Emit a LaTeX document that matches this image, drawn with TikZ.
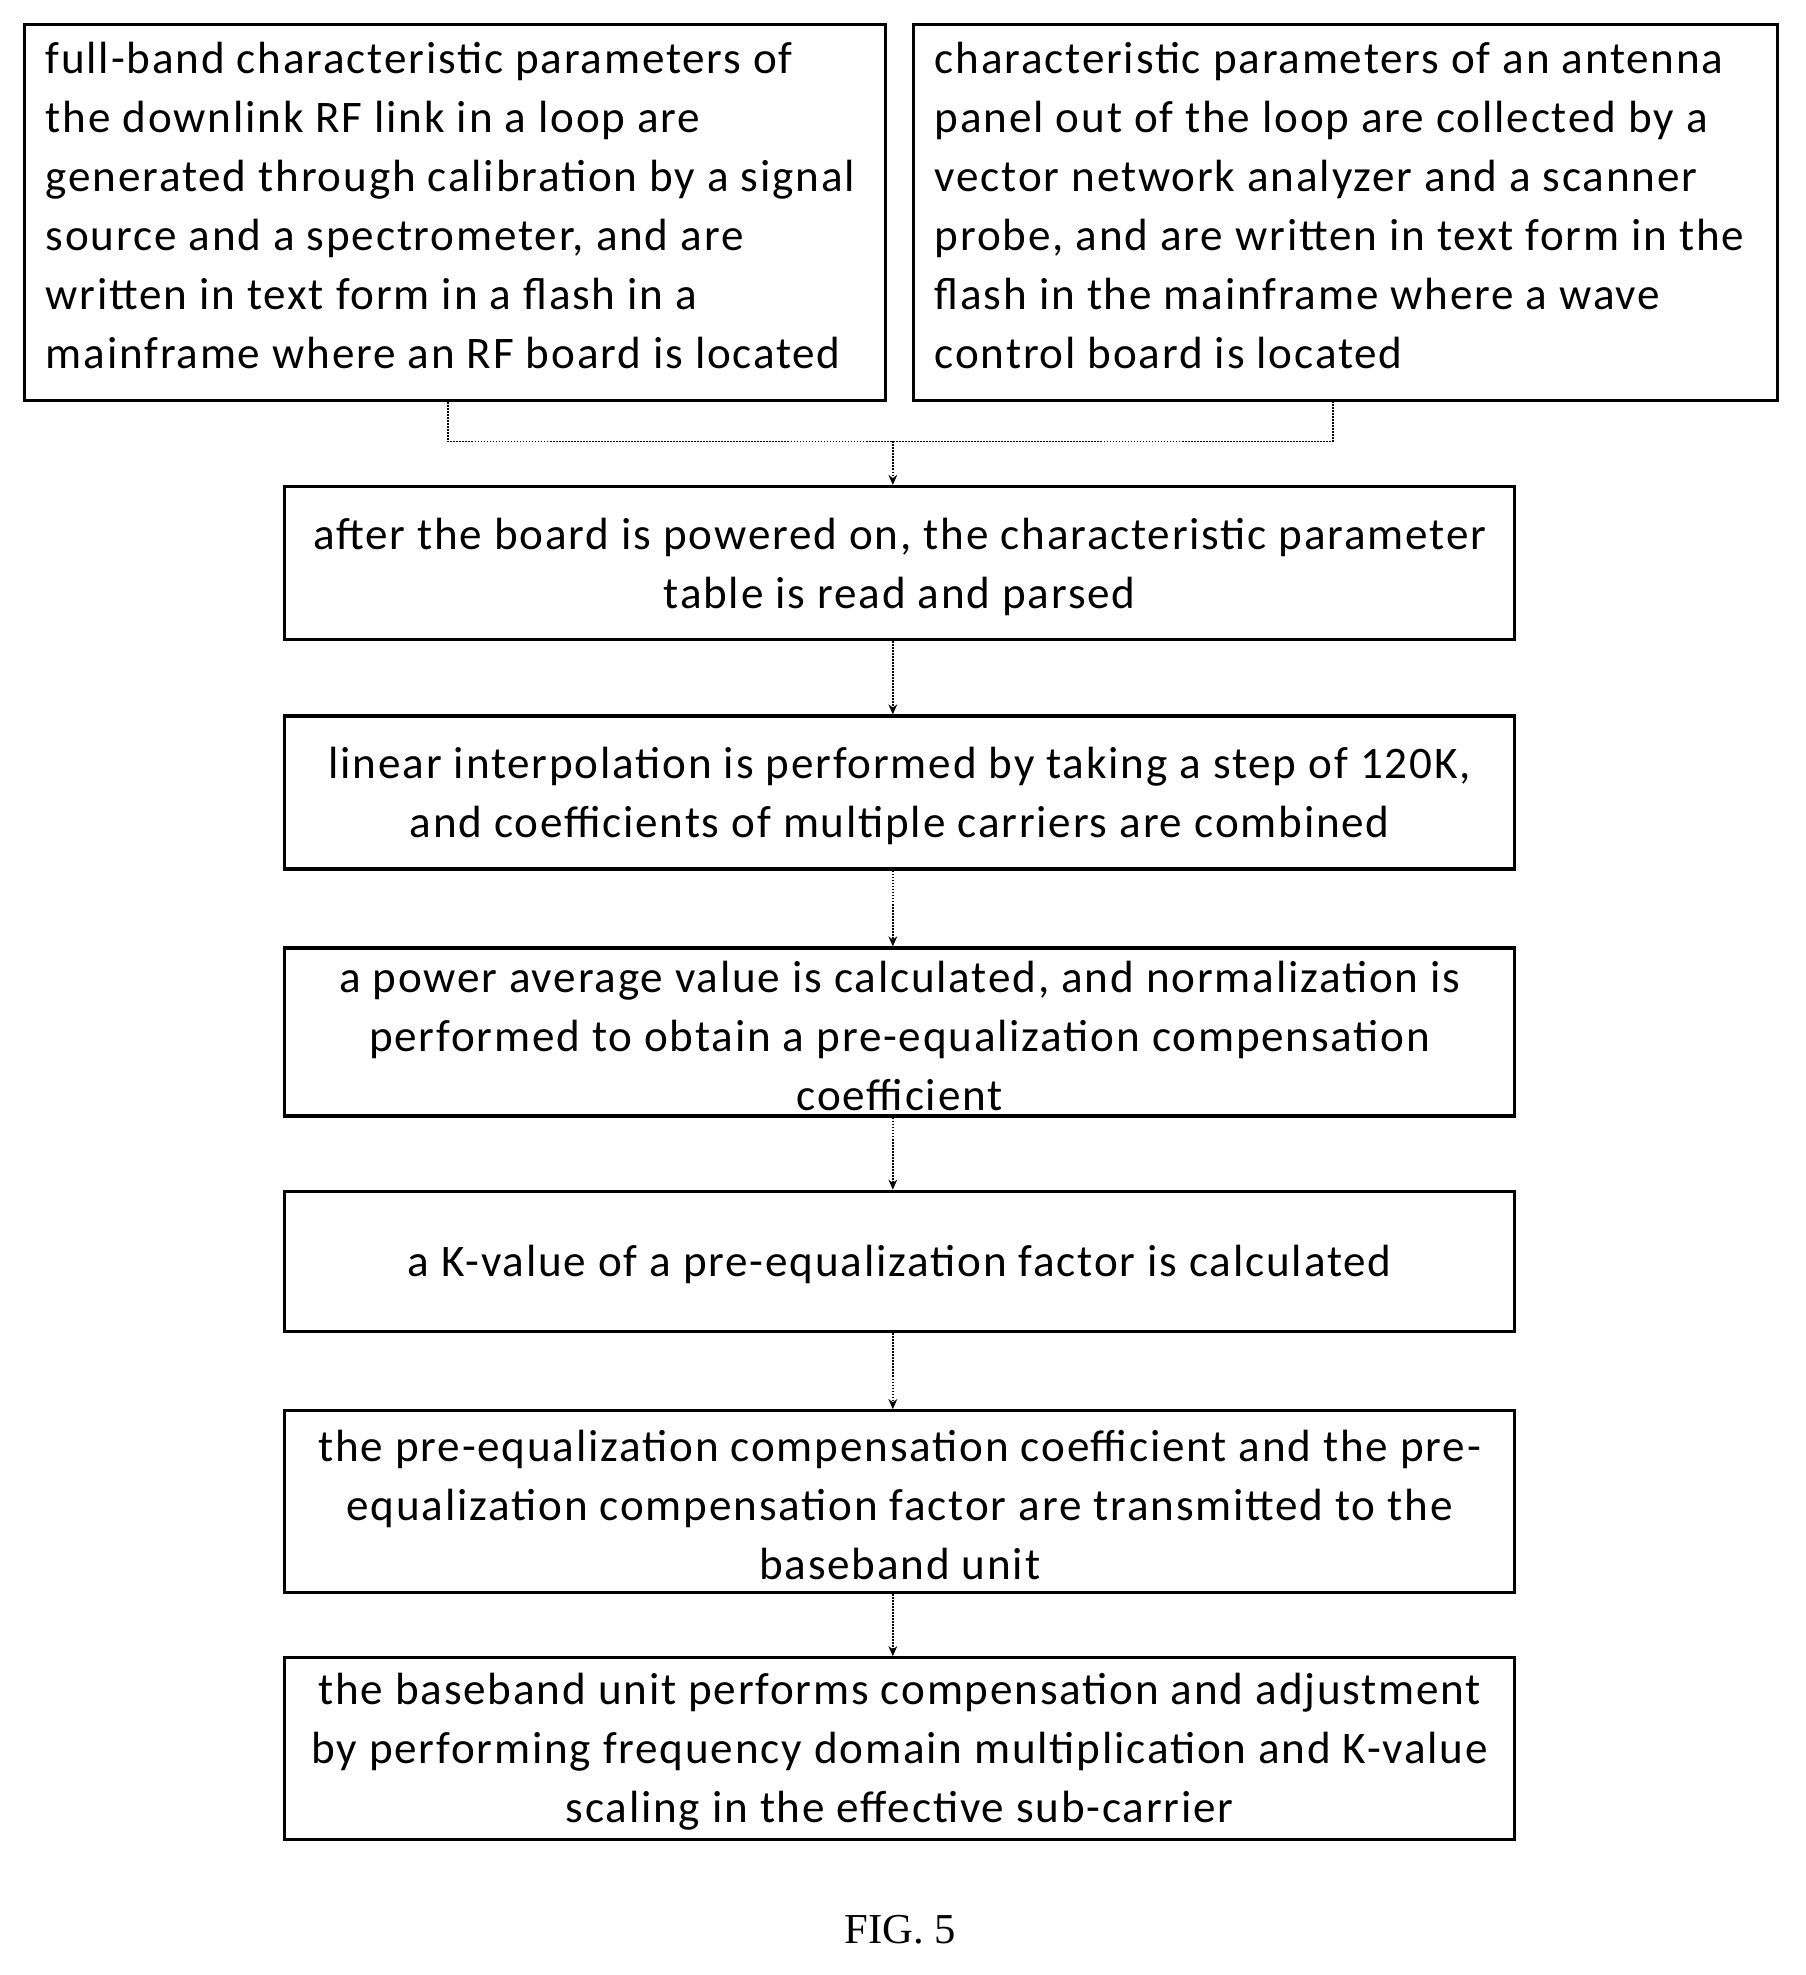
\documentclass[tikz,border=0pt]{standalone}
\usepackage{fontspec}
\setmainfont{Carlito}[LetterSpace=4]
\newfontfamily\figfont{Liberation Serif}
\usetikzlibrary{arrows.meta}
\begin{document}
\begin{tikzpicture}[x=1pt,y=-1pt,
  box/.style={draw,line width=2.6pt,inner sep=0pt},
  txt/.style={font=\fontsize{36}{47}\selectfont,align=center},
  conn/.style={densely dotted,line width=1.4pt},
  arr/.style={conn,-{Stealth[length=8pt,width=7pt]}}]
\useasboundingbox (0,0) rectangle (1440,1575);
\node[box,minimum width=687,minimum height=300,anchor=north west] (b1) at (18,18) {};
\node[box,minimum width=689,minimum height=300,anchor=north west] (b2) at (727,18) {};
\node[txt,align=left,anchor=north west] at (33,30) {full-band characteristic parameters of\\the downlink RF link in a loop are\\generated through calibration by a signal\\source and a spectrometer, and are\\written in text form in a flash in a\\mainframe where an RF board is located};
\node[txt,align=left,anchor=north west] at (742,30) {characteristic parameters of an antenna\\panel out of the loop are collected by a\\vector network analyzer and a scanner\\probe, and are written in text form in the\\flash in the mainframe where a wave\\control board is located};
\node[box,minimum width=981,minimum height=122] (b3) at (717.5,449) {};
\node[txt] at (717.5,452) {after the board is powered on, the characteristic parameter\\table is read and parsed};
\node[box,minimum width=981,minimum height=122] (b4) at (717.5,632) {};
\node[txt] at (717.5,635) {linear interpolation is performed by taking a step of 120K,\\and coefficients of multiple carriers are combined};
\node[box,minimum width=981,minimum height=134] (b5) at (717.5,823) {};
\node[txt] at (717.5,826) {a power average value is calculated, and normalization is\\performed to obtain a pre-equalization compensation\\coefficient};
\node[box,minimum width=981,minimum height=112] (b6) at (717.5,1006) {};
\node[txt] at (717.5,1008) {a K-value of a pre-equalization factor is calculated};
\node[box,minimum width=981,minimum height=145] (b7) at (717.5,1197.5) {};
\node[txt] at (717.5,1200) {the pre-equalization compensation coefficient and the pre-\\equalization compensation factor are transmitted to the\\baseband unit};
\node[box,minimum width=981,minimum height=145] (b8) at (717.5,1394.5) {};
\node[txt] at (717.5,1397) {the baseband unit performs compensation and adjustment\\by performing frequency domain multiplication and K-value\\scaling in the effective sub-carrier};
\node[font=\figfont\fontsize{34}{40}\selectfont] (fig) at (718,1539) {FIG. 5};
\coordinate (j1) at (357,352);
\coordinate (j2) at (1063,352);
\coordinate (jm) at (712,352);
\draw[conn] (b1.south -| j1) -- (j1) -- (j2) -- (b2.south -| j2);
\draw[arr] (jm) -- (jm |- b3.north);
\draw[arr] (b3.south -| jm) -- (b4.north -| jm);
\draw[arr] (b4.south -| jm) -- (b5.north -| jm);
\draw[arr] (b5.south -| jm) -- (b6.north -| jm);
\draw[arr] (b6.south -| jm) -- (b7.north -| jm);
\draw[arr] (b7.south -| jm) -- (b8.north -| jm);
\end{tikzpicture}
\end{document}
